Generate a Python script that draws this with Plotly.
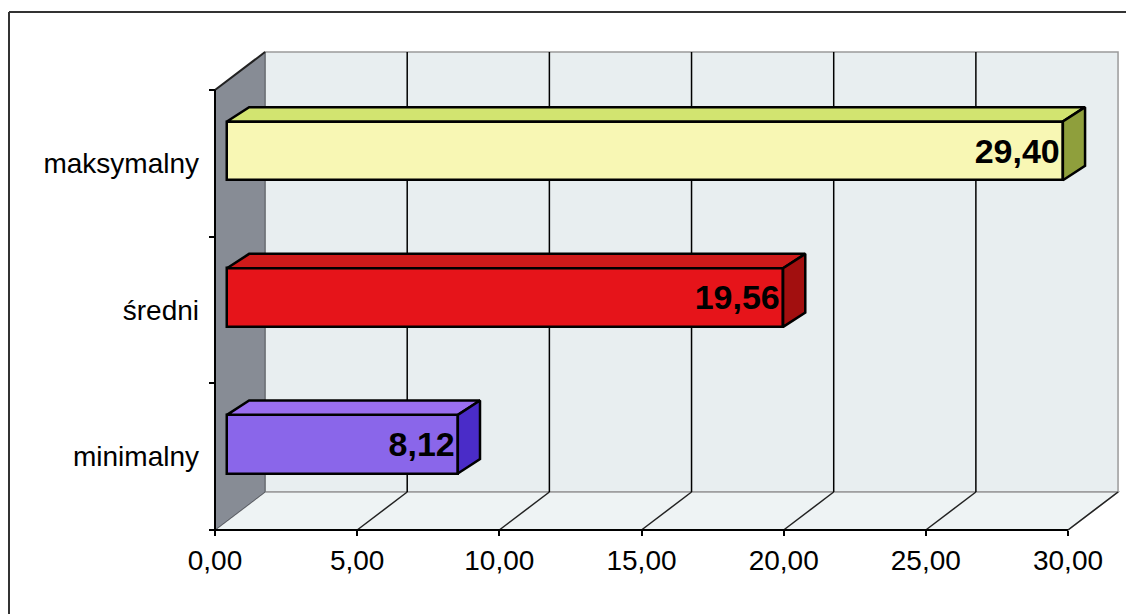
import plotly.graph_objects as go

# ---- data ----
categories = ["minimalny", "średni", "maksymalny"]
values = [8.12, 19.56, 29.40]
x_ticks = [0, 5, 10, 15, 20, 25, 30]
x_tick_labels = ["0,00", "5,00", "10,00", "15,00", "20,00", "25,00", "30,00"]

front_colors = ["#8a66ea", "#e6141a", "#f8f7b4"]
top_colors = ["#9a6ef0", "#cf1a1a", "#d2e470"]
side_colors = ["#4a2cc8", "#a20f0f", "#8f9f3c"]

# ---- 3D geometry in axis units ----
X_MAX = 30
DEPTH_X, DEPTH_Y = 1.76, 0.259        # floor / wall depth
BAR_DX, BAR_DY = 0.42, 0.085          # front face of bars sits inside the box
BAR_H = 0.40                          # bar thickness
BAR_DEPTH_X, BAR_DEPTH_Y = 0.78, 0.098

W, H = 1126, 614
PX_X = 853 / 30          # pixels per x unit
PX_Y = 440 / 3           # pixels per category
X0_PX, Y0_PX = 215, 530  # pixel position of the front axes origin

x_range = [-X0_PX / PX_X, (W - X0_PX) / PX_X]
y_range = [(Y0_PX - H) / PX_Y - 0.5, Y0_PX / PX_Y - 0.5]

n = len(categories)
y_lo, y_hi = -0.5, n - 0.5
FONT = "Liberation Sans, Arial, sans-serif"

fig = go.Figure()

# front faces of the bars
fig.add_trace(go.Bar(
    orientation="h",
    y=[i + BAR_DY for i in range(n)],
    x=values,
    base=[BAR_DX] * n,
    width=BAR_H,
    marker=dict(color=front_colors, line=dict(color="black", width=2.5)),
    text=[f"{v:.2f}".replace(".", ",") for v in values],
    textposition="inside",
    insidetextanchor="end",
    constraintext="none",
    textangle=0,
    textfont=dict(family=FONT, size=34, color="black", weight="bold"),
    hoverinfo="skip",
    showlegend=False,
))

# top and end faces of each bar
for i, v in enumerate(values):
    yc = i + BAR_DY
    x1, x2 = BAR_DX, BAR_DX + v
    yt, yb = yc + BAR_H / 2, yc - BAR_H / 2
    fig.add_trace(go.Scatter(
        x=[x1, x2, x2 + BAR_DEPTH_X, x1 + BAR_DEPTH_X, x1],
        y=[yt, yt, yt + BAR_DEPTH_Y, yt + BAR_DEPTH_Y, yt],
        mode="lines", fill="toself", fillcolor=top_colors[i],
        line=dict(color="black", width=2.5), hoverinfo="skip", showlegend=False,
    ))
    fig.add_trace(go.Scatter(
        x=[x2, x2 + BAR_DEPTH_X, x2 + BAR_DEPTH_X, x2, x2],
        y=[yb, yb + BAR_DEPTH_Y, yt + BAR_DEPTH_Y, yt, yb],
        mode="lines", fill="toself", fillcolor=side_colors[i],
        line=dict(color="black", width=2.5), hoverinfo="skip", showlegend=False,
    ))

# carrier for the boundary tick marks of the category axis
fig.add_trace(go.Scatter(x=[None], y=[None], yaxis="y2", showlegend=False, hoverinfo="skip"))

shapes = []
wall = "#e8eef0"
# back wall
shapes.append(dict(type="rect", layer="below", xref="x", yref="y",
                   x0=DEPTH_X, x1=X_MAX + DEPTH_X, y0=y_lo + DEPTH_Y, y1=y_hi + DEPTH_Y,
                   fillcolor=wall, line=dict(color="#9a9a9a", width=1.5)))
# floor
shapes.append(dict(type="path", layer="below", xref="x", yref="y",
                   path=f"M 0 {y_lo} L {X_MAX} {y_lo} L {X_MAX + DEPTH_X} {y_lo + DEPTH_Y} "
                        f"L {DEPTH_X} {y_lo + DEPTH_Y} Z",
                   fillcolor="#eef3f4", line=dict(color="#9a9a9a", width=1.5)))
# left side wall
shapes.append(dict(type="path", layer="below", xref="x", yref="y",
                   path=f"M 0 {y_lo} L {DEPTH_X} {y_lo + DEPTH_Y} L {DEPTH_X} {y_hi + DEPTH_Y} "
                        f"L 0 {y_hi} Z",
                   fillcolor="#878c95", line=dict(color="#5a5e66", width=1)))
# back wall and floor gridlines
for t in x_ticks[1:-1]:
    shapes.append(dict(type="line", layer="below", xref="x", yref="y",
                       x0=t + DEPTH_X, x1=t + DEPTH_X, y0=y_lo + DEPTH_Y, y1=y_hi + DEPTH_Y,
                       line=dict(color="black", width=1.5)))
for t in x_ticks[1:]:
    shapes.append(dict(type="line", layer="below", xref="x", yref="y",
                       x0=t, x1=t + DEPTH_X, y0=y_lo, y1=y_lo + DEPTH_Y,
                       line=dict(color="#222222", width=1.5)))
# top edge of the side wall
shapes.append(dict(type="line", layer="below", xref="x", yref="y",
                   x0=0, x1=DEPTH_X, y0=y_hi, y1=y_hi + DEPTH_Y,
                   line=dict(color="#222222", width=2)))
# front axis lines
shapes.append(dict(type="line", layer="below", xref="x", yref="y",
                   x0=0, x1=0, y0=y_lo, y1=y_hi, line=dict(color="black", width=2)))
shapes.append(dict(type="line", layer="below", xref="x", yref="y",
                   x0=-0.2, x1=X_MAX, y0=y_lo, y1=y_lo, line=dict(color="black", width=2)))
# outer frame
shapes.append(dict(type="line", xref="paper", yref="paper",
                   x0=9 / W, x1=1, y0=1 - 12 / H, y1=1 - 12 / H,
                   line=dict(color="#333333", width=2)))
shapes.append(dict(type="line", xref="paper", yref="paper",
                   x0=9 / W, x1=9 / W, y0=0, y1=1 - 12 / H,
                   line=dict(color="#333333", width=2)))

fig.update_layout(
    width=W, height=H, autosize=False,
    margin=dict(l=0, r=0, t=0, b=0, pad=0),
    paper_bgcolor="white", plot_bgcolor="white",
    shapes=shapes,
    xaxis=dict(range=x_range, domain=[0, 1], anchor="free", position=(H - Y0_PX) / H,
               tickvals=x_ticks, ticktext=x_tick_labels,
               ticks="outside", ticklen=5, tickwidth=1.5, tickcolor="black",
               showgrid=False, zeroline=False, showline=False,
               tickfont=dict(family=FONT, size=28, color="black")),
    yaxis=dict(range=y_range, domain=[0, 1], anchor="free", position=X0_PX / W,
               tickvals=list(range(n)), ticktext=categories,
               ticks="", ticklabelstandoff=16,
               showgrid=False, zeroline=False, showline=False,
               tickfont=dict(family=FONT, size=28, color="black")),
    yaxis2=dict(range=y_range, domain=[0, 1], overlaying="y", anchor="free",
                position=X0_PX / W, side="left",
                tickvals=[i - 0.5 for i in range(n + 1)], showticklabels=False,
                ticks="outside", ticklen=6, tickwidth=1.5, tickcolor="black",
                showgrid=False, zeroline=False, showline=False),
    bargap=0,
)

fig.write_html("out.html")
